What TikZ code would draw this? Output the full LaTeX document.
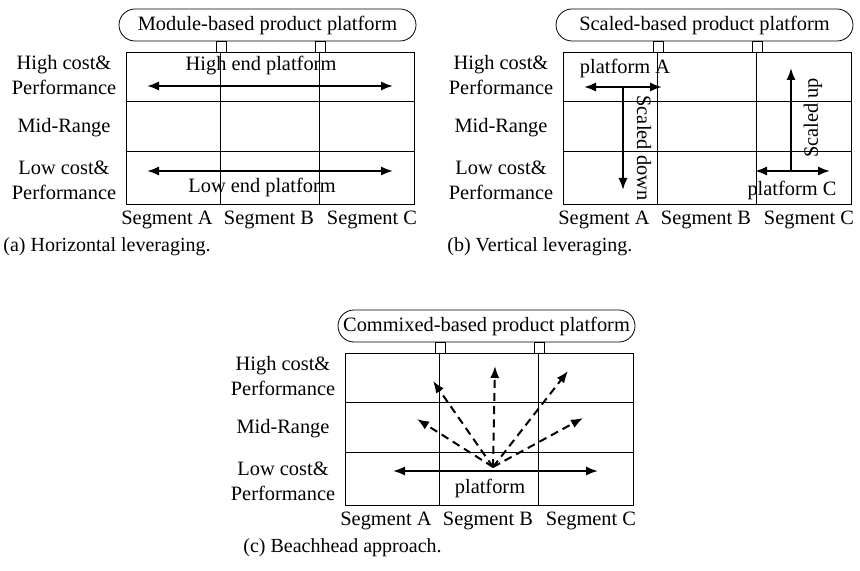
\documentclass[tikz,border=0pt]{standalone}
\usepackage{fontspec}
\setmainfont{Liberation Serif}
\usetikzlibrary{arrows.meta}

\tikzset{
  every node/.style={font=\fontsize{10.2}{12.5}\selectfont},
  platbox/.style={draw, rounded corners=8pt, minimum width=148.5pt, minimum height=16pt, inner sep=0pt},
  rowlab/.style={align=center, inner sep=0pt},
  capt/.style={anchor=west, inner sep=0pt, font=\fontsize{10}{12}\selectfont},
  lev/.style={line width=1pt, {Latex[length=6pt,width=4.6pt]}-{Latex[length=6pt,width=4.6pt]}},
  levone/.style={line width=1pt, -{Latex[length=6pt,width=4.6pt]}},
  fan/.style={line width=1pt, dash pattern=on 4pt off 2.6pt, -{Latex[length=6pt,width=4.6pt]}}
}

% common table: platform box, grid, row and segment labels
\newcommand{\segtable}[2]{%
  \node[platbox] (#1plat) at (141.5,-27) {#2};
  \draw (0,0) rectangle (288,152);
  \foreach \cx in {94,193} \draw (\cx,0) -- (\cx,152);
  \foreach \ry in {49,99} \draw (0,\ry) -- (288,\ry);
  \draw (90,-11) rectangle (100,0);
  \draw (189,-11) rectangle (199,0);
  \node[rowlab] (#1high) at (-62,23.5) {High cost\&\\Performance};
  \node[rowlab] (#1mid) at (-62,76) {Mid-Range};
  \node[rowlab] (#1low) at (-62,128) {Low cost\&\\Performance};
  \node (#1sega) at (41,168) {Segment A};
  \node (#1segb) at (143,168) {Segment B};
  \node (#1segc) at (246,168) {Segment C};
}

\begin{document}
\begin{tikzpicture}[x=0.5pt, y=-0.5pt]
\useasboundingbox (0,0) rectangle (860,571);

% (a) horizontal
\begin{scope}[shift={(126,52)}]
\segtable{a}{Module-based product platform}
\coordinate (ahl) at (21,34);
\coordinate (ahr) at (267,34);
\coordinate (all) at (21,119);
\coordinate (alr) at (267,119);
\draw[lev] (ahl) -- (ahr);
\draw[lev] (all) -- (alr);
\node (ahend) at (135,14) {High end platform};
\node (alend) at (136,135) {Low end platform};
\end{scope}

% (b) vertical
\begin{scope}[shift={(563,52)}]
\segtable{b}{Scaled-based product platform}
\coordinate (bal) at (21,35);
\coordinate (bar) at (99,35);
\coordinate (bat) at (60,35);
\coordinate (bab) at (60,138);
\coordinate (bcl) at (192,119);
\coordinate (bcr) at (267,119);
\coordinate (bcb) at (228,119);
\coordinate (bct) at (228,16);
\draw[lev] (bal) -- (bar);
\draw[levone] (bat) -- (bab);
\draw[lev] (bcl) -- (bcr);
\draw[levone] (bcb) -- (bct);
\node (bplata) at (62,16) {platform A};
\node (bplatc) at (229,138) {platform C};
\node[rotate=-90] (bdown) at (81,96) {Scaled down};
\node[rotate=90] (bup) at (250,66) {Scaled up};
\end{scope}

% (c) beachhead
\begin{scope}[shift={(345,353)}]
\segtable{c}{Commixed-based product platform}
\coordinate (cl) at (48,118);
\coordinate (cr) at (253,118);
\coordinate (cfan) at (148,114);
\coordinate (cul) at (88,28);
\coordinate (cup) at (150,13);
\coordinate (cur) at (223,18);
\coordinate (cml) at (72,66);
\coordinate (cmr) at (238,65);
\draw[lev] (cl) -- (cr);
\foreach \n in {cul,cup,cur,cml,cmr}
  \draw[fan] (cfan) -- (\n);
\node (cplat) at (145,135) {platform};
\end{scope}

\node[capt] (capa) at (3,247) {(a) Horizontal leveraging.};
\node[capt] (capb) at (447,247) {(b) Vertical leveraging.};
\node[capt] (capc) at (243,548) {(c) Beachhead approach.};
\end{tikzpicture}
\end{document}
